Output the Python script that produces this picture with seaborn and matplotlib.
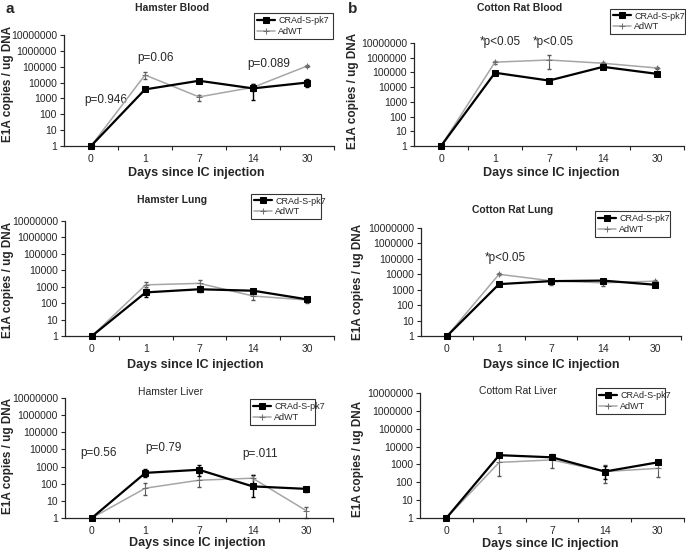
import matplotlib
matplotlib.use('Agg')
import matplotlib.pyplot as plt
import numpy as np
import pandas as pd
import seaborn as sns

sns.set_style('ticks')
plt.rcParams['font.family'] = ['Liberation Sans', 'DejaVu Sans']

days = ['0', '1', '7', '14', '30']
series = ['CRAd-S-pk7', 'AdWT']
yticks = [1, 10, 100, 1000, 10000, 100000, 1000000, 10000000]

# Hamster blood
hb_crad = [1, 3700, 13000, 4300, 10000]
hb_crad_lo = [1, 3000, 11000, 800, 4900]
hb_crad_hi = [1, 4500, 16000, 7600, 18000]
hb_ad = [1, 30000, 1250, 5000, 110000]
hb_ad_lo = [1, 18000, 700, 3000, 90000]
hb_ad_hi = [1, 48000, 1600, 8000, 130000]

# Cotton rat blood
cb_crad = [1, 95000, 28000, 240000, 80000]
cb_crad_lo = [1, 75000, 22000, 180000, 60000]
cb_crad_hi = [1, 120000, 35000, 320000, 100000]
cb_ad = [1, 500000, 700000, 420000, 200000]
cb_ad_lo = [1, 400000, 180000, 350000, 160000]
cb_ad_hi = [1, 600000, 1500000, 500000, 250000]

# Hamster lung
hl_crad = [1, 450, 700, 570, 170]
hl_crad_lo = [1, 250, 450, 450, 120]
hl_crad_hi = [1, 700, 1000, 700, 230]
hl_ad = [1, 1300, 1600, 270, 155]
hl_ad_lo = [1, 900, 1100, 150, 100]
hl_ad_hi = [1, 1900, 2400, 400, 200]

# Cotton rat lung
cl_crad = [1, 2300, 3600, 3900, 2100]
cl_crad_lo = [1, 2000, 3000, 3300, 1800]
cl_crad_hi = [1, 2700, 4300, 4600, 2500]
cl_ad = [1, 10000, 3800, 2800, 3600]
cl_ad_lo = [1, 9000, 1900, 1800, 3000]
cl_ad_hi = [1, 11500, 4500, 3500, 4300]

# Hamster liver
hv_crad = [1, 430, 650, 70, 50]
hv_crad_lo = [1, 250, 300, 17, 35]
hv_crad_hi = [1, 700, 1200, 316, 65]
hv_ad = [1, 55, 160, 210, 2.7]
hv_ad_lo = [1, 22, 66, 100, 1]
hv_ad_hi = [1, 104, 400, 320, 4.4]

# Cotton rat liver
cv_crad = [1, 3300, 2500, 400, 1300]
cv_crad_lo = [1, 2500, 2000, 150, 1000]
cv_crad_hi = [1, 4300, 3200, 800, 1600]
cv_ad = [1, 1300, 1800, 400, 600]
cv_ad_lo = [1, 230, 650, 90, 190]
cv_ad_hi = [1, 4000, 3800, 900, 1100]

W, H = 686, 552
fig = plt.figure(figsize=(W / 100, H / 100), dpi=100)


def px_axes(l, t, r, b):
    return fig.add_axes([l / W, 1 - b / H, (r - l) / W, (b - t) / H])


def fx(x):
    return x / W


def fy(y):
    return 1 - y / H


def draw_panel(ax, title, title_xy, ylab_xy, xlab_xy, crad, crad_lo, crad_hi,
               ad, ad_lo, ad_hi, leg_box, title_weight='bold'):
    pos = np.arange(len(days))
    # error bars first so lines sit on top
    ad_v = np.array(ad, dtype=float)
    ax.errorbar(pos, ad_v, yerr=[ad_v - np.array(ad_lo), np.array(ad_hi) - ad_v],
                fmt='none', ecolor='#555555', elinewidth=0.8, capsize=1.5, zorder=2)
    cr_v = np.array(crad, dtype=float)
    ax.errorbar(pos, cr_v, yerr=[cr_v - np.array(crad_lo), np.array(crad_hi) - cr_v],
                fmt='none', ecolor='black', elinewidth=1.0, capsize=1.5, zorder=3)

    df_ad = pd.DataFrame({'pos': pos, 'copies': ad})
    df_cr = pd.DataFrame({'pos': pos, 'copies': crad})
    sns.lineplot(data=df_ad, x='pos', y='copies', ax=ax, color='#a6a6a6',
                 linewidth=1.1, marker='+', markersize=5, markeredgecolor='#707070',
                 estimator=None, label=series[1], zorder=4)
    sns.lineplot(data=df_cr, x='pos', y='copies', ax=ax, color='black',
                 linewidth=1.6, marker='s', markersize=5, markeredgecolor='black',
                 estimator=None, label=series[0], zorder=5)
    for ln in ax.get_lines():
        ln.set_clip_on(False)

    ax.set_yscale('log')
    ax.set_ylim(1, 10000000)
    ax.set_yticks(yticks)
    ax.set_yticklabels([str(v) for v in yticks], fontsize=7.5)
    ax.yaxis.set_minor_locator(matplotlib.ticker.NullLocator())
    ax.set_xlim(-0.5, 4.5)
    ax.set_xticks(pos)
    ax.set_xticklabels(days, fontsize=7.5)
    ax.set_xticks(pos + 0.5, minor=True)
    ax.tick_params(axis='x', which='major', length=0, pad=6)
    ax.tick_params(axis='x', which='minor', length=3, width=0.8, direction='out')
    ax.tick_params(axis='y', length=3, width=0.8, direction='out', pad=2)
    sns.despine(ax=ax)
    for sp in ax.spines.values():
        sp.set_linewidth(0.9)

    ax.set_xlabel('Days since IC injection', fontsize=9, fontweight='bold')
    ax.set_ylabel('E1A copies / ug DNA', fontsize=8.5, fontweight='bold')
    ax.xaxis.set_label_coords(fx(xlab_xy[0]), fy(xlab_xy[1]), transform=fig.transFigure)
    ax.xaxis.label.set_va('center')
    ax.yaxis.set_label_coords(fx(ylab_xy[0]), fy(ylab_xy[1]), transform=fig.transFigure)
    ax.yaxis.label.set_va('center')
    fig.text(fx(title_xy[0]), fy(title_xy[1]), title, ha='center', va='center',
             fontsize=7.5, fontweight=title_weight)

    handles, labels = ax.get_legend_handles_labels()
    order = [labels.index(s) for s in series]
    l, t, r, b = leg_box
    bbox = (fx(l), fy(b), (r - l) / W, (b - t) / H)
    leg = ax.legend([handles[i] for i in order], [labels[i] for i in order],
                    bbox_to_anchor=bbox, bbox_transform=fig.transFigure,
                    loc='center', mode='expand', fontsize=6.5, frameon=True,
                    fancybox=False, handlelength=2.0, handletextpad=0.4,
                    borderpad=0.3, labelspacing=0.2, borderaxespad=0)
    leg.get_frame().set_edgecolor('black')
    leg.get_frame().set_linewidth(0.8)


def note(ax, x, y, s):
    ax.text(x, y, s, fontsize=8.5, ha='left', va='center', clip_on=False)


ax1 = px_axes(64, 35, 334, 146)
draw_panel(ax1, 'Hamster Blood', (172, 8), (8, 84), (196, 173),
           hb_crad, hb_crad_lo, hb_crad_hi,
           hb_ad, hb_ad_lo, hb_ad_hi, (254, 14, 333, 38))
note(ax1, -0.12, 800, 'p=0.946')
note(ax1, 0.85, 350000, 'p=0.06')
note(ax1, 2.9, 150000, 'p=0.089')

ax2 = px_axes(414, 43, 684, 146)
draw_panel(ax2, 'Cotton Rat Blood', (520, 8), (353, 91), (551, 173),
           cb_crad, cb_crad_lo, cb_crad_hi,
           cb_ad, cb_ad_lo, cb_ad_hi, (610, 10, 685, 33))
note(ax2, 0.72, 12000000, '*p<0.05')
note(ax2, 1.7, 12000000, '*p<0.05')

ax3 = px_axes(65, 221, 334, 336)
draw_panel(ax3, 'Hamster Lung', (172, 200), (8, 280), (195, 365),
           hl_crad, hl_crad_lo, hl_crad_hi,
           hl_ad, hl_ad_lo, hl_ad_hi, (251, 193, 321, 220))

ax4 = px_axes(421, 228, 681, 336)
draw_panel(ax4, 'Cotton Rat Lung', (513, 210), (358, 282), (551, 365),
           cl_crad, cl_crad_lo, cl_crad_hi,
           cl_ad, cl_ad_lo, cl_ad_hi, (595, 213, 670, 235))
note(ax4, 0.72, 115000, '*p<0.05')

ax5 = px_axes(65, 398, 333, 518)
draw_panel(ax5, 'Hamster Liver', (170, 392), (8, 456), (197, 543),
           hv_crad, hv_crad_lo, hv_crad_hi,
           hv_ad, hv_ad_lo, hv_ad_hi, (250, 396, 315, 428), title_weight='medium')
note(ax5, -0.22, 6300, 'p=0.56')
note(ax5, 1.0, 12000, 'p=0.79')
note(ax5, 2.8, 5500, 'p=.011')

ax6 = px_axes(420, 393, 684, 518)
draw_panel(ax6, 'Cottom Rat Liver', (518, 391), (358, 459), (550, 544),
           cv_crad, cv_crad_lo, cv_crad_hi,
           cv_ad, cv_ad_lo, cv_ad_hi, (596, 389, 665, 413), title_weight='medium')

fig.text(5 / W, 1 - 9 / H, 'a', fontsize=11, fontweight='bold', va='center')
fig.text(348 / W, 1 - 9 / H, 'b', fontsize=11, fontweight='bold', va='center')

fig.savefig('out.png', dpi=100)
